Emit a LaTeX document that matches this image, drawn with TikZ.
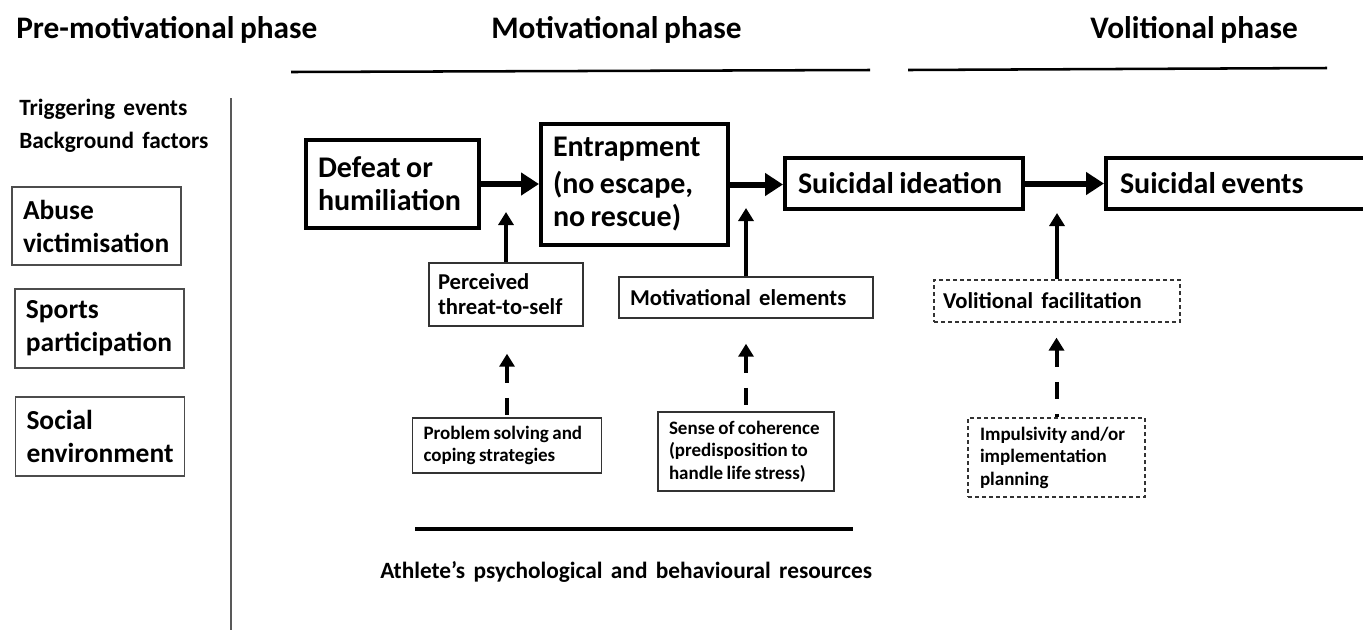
\documentclass[tikz,border=0pt]{standalone}
\usepackage{fontspec}
\setmainfont{Carlito}[WordSpace=0.8]
\usepackage{tikz}
\usetikzlibrary{arrows.meta}
\hyphenpenalty=10000
\exhyphenpenalty=10000

\begin{document}
\begin{tikzpicture}[x=0.75pt,y=0.75pt,yscale=-1,xscale=1,
  every node/.style={execute at begin node={\spaceskip=0.18em\relax}},
  mainbox/.style={draw, line width=3pt, align=left, font=\bfseries\fontsize{22.5}{24.75}\selectfont},
  leftbox/.style={draw=black!70, line width=1.1pt, align=left, inner xsep=8.25pt, text width=110.25pt, font=\bfseries\fontsize{20.6}{24.75}\selectfont},
  midbox/.style={draw=black!80, line width=1.1pt, align=left, font=\bfseries\fontsize{17}{18.75}\selectfont},
  smallbox/.style={draw=black!80, line width=1.1pt, align=left, font=\bfseries\fontsize{14.25}{16.9}\selectfont},
  dashbox/.style={dash pattern=on 3pt off 2.25pt, line width=0.9pt},
  fwd/.style={line width=4.5pt, -{Triangle[length=13.5pt,width=16.5pt]}},
  upfrom/.style={line width=3pt, -{Triangle[length=9.75pt,width=11.25pt]}},
  dashup/.style={line width=3pt, dash pattern=on 12.75pt off 11.25pt, {Triangle[length=9.75pt,width=11.25pt]}-},
  phase/.style={anchor=west, inner sep=0pt, font=\bfseries\fontsize{23.5}{28}\selectfont}]
\useasboundingbox (0,0) rectangle (1363,637);
\clip (0,0) rectangle (1363,637);

% Text Node
\node[phase] (premot) at (16,30) {Pre-motivational phase};
% Text Node
\node[phase] (motphase) at (491,30) {Motivational phase};
% Text Node
\node[phase] (volphase) at (1090,30) {Volitional phase};
%Straight Lines
\draw[line width=1.9pt] (291,72) -- (870,70);
\draw[line width=1.9pt] (908,70) -- (1327,68);
\draw[black!65, line width=1.1pt] (231,98) -- (231,630);
\draw[line width=2.6pt] (415,529) -- (853,529);

% Text Node
\node[anchor=west, inner sep=0pt, align=left, font=\bfseries\fontsize{17.5}{24.75}\selectfont] (trigger) at (19,125.5) {Triggering~~events\\Background~~factors};
%Shape: Rectangle
\node[leftbox, minimum height=58.5pt] (abuse) at (96.5,226) {Abuse\\victimisation};
\node[leftbox, minimum height=59.25pt] (sports) at (99.5,328.5) {Sports\\participation};
\node[leftbox, minimum height=59.25pt] (social) at (100,436.5) {Social\\environment};

%Shape: Rectangle
\node[mainbox, text width=111.75pt, inner xsep=9pt, minimum height=66pt] (defeat) at (392.5,184) {Defeat~or\\humiliation};
\node[mainbox, text width=122.25pt, inner xsep=9pt, minimum height=90.75pt] (entrap) at (634.5,184.5) {Entrapment\\[3pt](no~escape,\\no~rescue)};
\node[mainbox, text width=159pt, inner xsep=9.75pt, minimum height=38.25pt] (ideation) at (904,183.5) {Suicidal~ideation};
\node[mainbox, text width=204pt, inner xsep=10.5pt, minimum height=38.25pt] (events) at (1256,183.5) {Suicidal~events};

%Shape: Rectangle
\node[midbox, text width=102pt, inner xsep=6.75pt, minimum height=47.25pt] (perc) at (506,294.5) {Perceived\\threat-to-self};
\node[midbox, text width=174pt, inner xsep=8.25pt, minimum height=30.75pt] (motiv) at (746,297.5) {Motivational~~elements};
\node[midbox, dashbox, text width=171pt, inner xsep=6.75pt, minimum height=31.5pt] (volit) at (1057,301) {Volitional~~facilitation};

%Shape: Rectangle
\node[smallbox, text width=125.25pt, inner xsep=8.25pt, minimum height=41.25pt] (prob) at (507,445.5) {Problem~solving~and\\coping~strategies};
\node[smallbox, text width=115.5pt, inner xsep=8.25pt, minimum height=59.25pt] (sense) at (746,451.5) {Sense~of~coherence\\(predisposition~to\\handle~life~stress)};
\node[smallbox, dashbox, text width=114.75pt, inner xsep=9pt, minimum height=59.25pt] (impul) at (1056.5,457.5) {Impulsivity~and/or\\implementation\\planning};

% Text Node
\node[anchor=west, inner sep=0pt, font=\bfseries\fontsize{17.5}{21}\selectfont] (resources) at (380,572) {Athlete’s~~psychological~~and~~behavioural~~resources};

%Straight Lines
\draw[fwd] (defeat.east) -- (entrap.west |- defeat.east);
\draw[fwd] (entrap.east) -- (ideation.west |- entrap.east);
\draw[fwd] (ideation.east) -- (events.west);

\coordinate (tipperc) at (506,212);
\coordinate (tipmotiv) at (746,208);
\coordinate (tipvolit) at (1057,213);
\draw[upfrom] (perc.north) -- (tipperc);
\draw[upfrom] (motiv.north) -- (tipmotiv);
\draw[upfrom] (volit.north) -- (tipvolit);

\draw[dashup, shorten <=20.25pt] (prob.north |- perc.south) -- (prob.north);
\draw[dashup, shorten <=18.75pt] (sense.north |- motiv.south) -- (sense.north);
\draw[dashup, shorten <=11.25pt] (impul.north |- volit.south) -- (impul.north);
\end{tikzpicture}
\end{document}
